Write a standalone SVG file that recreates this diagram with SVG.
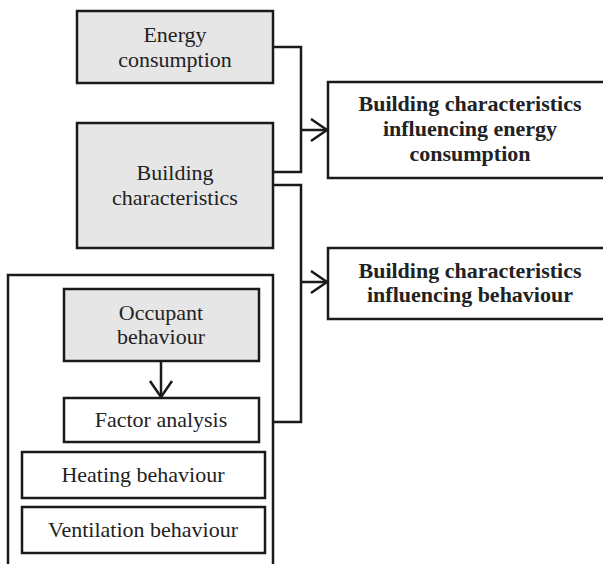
<svg xmlns="http://www.w3.org/2000/svg" width="603" height="564" viewBox="0 0 603 564">
<defs>
<style>
.box{fill:#ffffff;stroke:#1a1a1a;stroke-width:2.5}
.gray{fill:#e6e6e6;stroke:#1a1a1a;stroke-width:2.5}
.t{font-family:"Liberation Serif","Times New Roman",serif;font-size:22px;fill:#222;text-anchor:middle}
.b{font-weight:bold}
.c{fill:none;stroke:#1a1a1a;stroke-width:2.5}
</style>
<marker id="arr" markerWidth="20" markerHeight="26" refX="17" refY="12" orient="auto" markerUnits="userSpaceOnUse">
<path d="M1,1 L17,12 L1,23" fill="none" stroke="#1a1a1a" stroke-width="2.5"/>
</marker>
</defs>
<rect width="603" height="564" fill="#ffffff"/>
<g id="group-outer">
<path class="c" d="M8,565 V275 H273 V565"/>
</g>
<g id="energy">
<rect class="gray" x="77" y="11" width="196" height="72"/>
<text class="t" x="175" y="42">Energy</text>
<text class="t" x="175" y="67">consumption</text>
</g>
<g id="building">
<rect class="gray" x="77" y="123" width="196" height="125"/>
<text class="t" x="175" y="180">Building</text>
<text class="t" x="175" y="205">characteristics</text>
</g>
<g id="bc-energy">
<rect class="box" x="328" y="82" width="280" height="96"/>
<text class="t b" x="470" y="111">Building characteristics</text>
<text class="t b" x="470" y="136">influencing energy</text>
<text class="t b" x="470" y="161">consumption</text>
</g>
<g id="bc-behaviour">
<rect class="box" x="328" y="248" width="280" height="71"/>
<text class="t b" x="470" y="278">Building characteristics</text>
<text class="t b" x="470" y="302">influencing behaviour</text>
</g>
<g id="occupant">
<rect class="gray" x="64" y="289" width="195" height="72"/>
<text class="t" x="161" y="320">Occupant</text>
<text class="t" x="161" y="344">behaviour</text>
</g>
<g id="factor">
<rect class="box" x="64" y="398" width="195" height="44"/>
<text class="t" x="161" y="427">Factor analysis</text>
</g>
<g id="heating">
<rect class="box" x="22" y="452" width="243" height="46"/>
<text class="t" x="143" y="482">Heating behaviour</text>
</g>
<g id="ventilation">
<rect class="box" x="22" y="507" width="243" height="46"/>
<text class="t" x="143" y="537">Ventilation behaviour</text>
</g>
<g id="connectors">
<path class="c" d="M273,47 H301 V172 H273"/>
<path class="c" d="M301,130 H327" marker-end="url(#arr)"/>
<path class="c" d="M273,185 H301 V422 H273"/>
<path class="c" d="M301,282 H327" marker-end="url(#arr)"/>
<path class="c" d="M161,361 V397" marker-end="url(#arr)"/>
</g>
</svg>
